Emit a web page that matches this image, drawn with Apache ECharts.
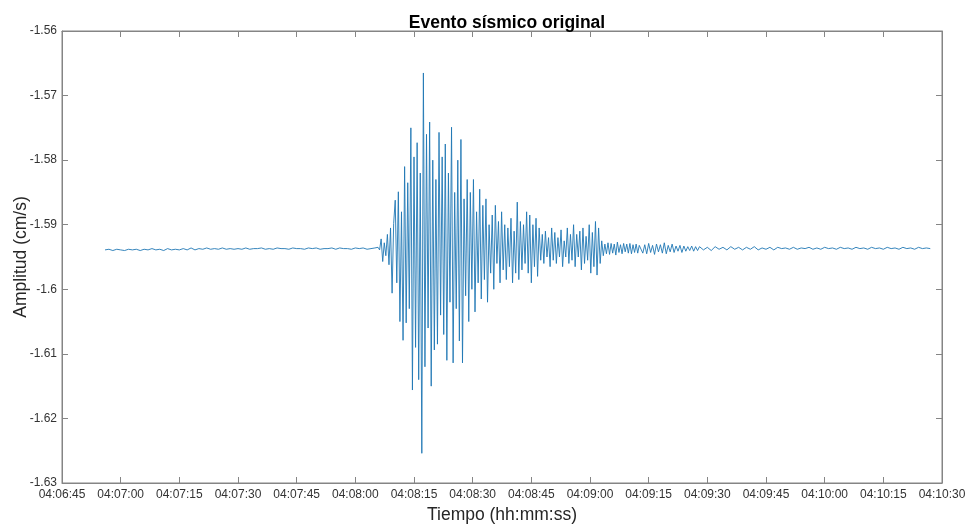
<!DOCTYPE html>
<html>
<head>
    <meta charset="UTF-8">
    <title>Evento sísmico original</title>
    <script src="https://cdn.jsdelivr.net/npm/echarts@6/dist/echarts.min.js"></script>
    <style>
        html, body { margin: 0; padding: 0; background: #fff; }
        #chart { width: 968px; height: 525px; }
    </style>
</head>
<body>
    <div id="chart"></div>
    <script>
        // segundos desde 00:00:00
        var xMin = 14805;   // 04:06:45
        var xMax = 15030;   // 04:10:30
        var xStep = 15;
        var yTicks = [-1.63, -1.62, -1.61, -1.60, -1.59, -1.58, -1.57, -1.56];

        // antes del evento: 04:06:56 .. 04:08:04, cada 1 s
        var preStart = 14816;
        var preDt = 1;
        var preValues = [
            -1.5939, -1.5938, -1.5940, -1.5938, -1.5939, -1.5940, -1.5938, -1.5939, -1.5938, -1.5940,
            -1.5938, -1.5939, -1.5937, -1.5939, -1.5938, -1.5940, -1.5937, -1.5939, -1.5938, -1.5939,
            -1.5937, -1.5939, -1.5936, -1.5939, -1.5937, -1.5938, -1.5936, -1.5938, -1.5937, -1.5938,
            -1.5936, -1.5938, -1.5937, -1.5938, -1.5937, -1.5938, -1.5936, -1.5938, -1.5937, -1.5937,
            -1.5936, -1.5938, -1.5937, -1.5938, -1.5936, -1.5937, -1.5937, -1.5938, -1.5936, -1.5937,
            -1.5937, -1.5938, -1.5936, -1.5937, -1.5936, -1.5938, -1.5937, -1.5937, -1.5936, -1.5938,
            -1.5936, -1.5937, -1.5937, -1.5938, -1.5936, -1.5937, -1.5936, -1.5938, -1.5937
        ];

        // evento: 04:08:05 .. 04:09:12.6, cada 0.4 s
        var evStart = 14885;
        var evDt = 0.4;
        var evValues = [
            -1.5936, -1.5938, -1.5935, -1.5939,
            -1.5922, -1.5957, -1.5928, -1.5948,
            -1.5915, -1.5962, -1.5905, -1.6006, -1.5898,
            -1.5862, -1.5990, -1.5849, -1.6050, -1.5880, -1.6079,
            -1.5810, -1.6052, -1.5835, -1.6030, -1.5750, -1.6156,
            -1.5795, -1.6090, -1.5773, -1.6140, -1.5820, -1.6254,
            -1.5665, -1.6120, -1.5760, -1.6060, -1.5741, -1.6150,
            -1.5800, -1.6094, -1.5830, -1.6085, -1.5757, -1.6040,
            -1.5795, -1.6070, -1.5775, -1.6110, -1.5820, -1.6020,
            -1.5749, -1.6114, -1.5850, -1.6030, -1.5800, -1.6080,
            -1.5768, -1.6114, -1.5860, -1.6010, -1.5830, -1.6050,
            -1.5850, -1.6000, -1.5830, -1.6035, -1.5880, -1.5990,
            -1.5845, -1.6015, -1.5870, -1.5985, -1.5860, -1.6020,
            -1.5900, -1.5975, -1.5885, -1.6000, -1.5870, -1.5960,
            -1.5895, -1.5990, -1.5880, -1.5970, -1.5900, -1.5985,
            -1.5905, -1.5965, -1.5890, -1.5990, -1.5910, -1.5975,
            -1.5865, -1.5985, -1.5895, -1.5970, -1.5900, -1.5960,
            -1.5880, -1.5975, -1.5885, -1.5990, -1.5900, -1.5965,
            -1.5890, -1.5980, -1.5905, -1.5955, -1.5915, -1.5960,
            -1.5910, -1.5950, -1.5920, -1.5965, -1.5905, -1.5955,
            -1.5912, -1.5960, -1.5920, -1.5950, -1.5908, -1.5965,
            -1.5925, -1.5950, -1.5905, -1.5960, -1.5915, -1.5955,
            -1.5900, -1.5965, -1.5915, -1.5950, -1.5910, -1.5970,
            -1.5905, -1.5960, -1.5918, -1.5955, -1.5900, -1.5975,
            -1.5912, -1.5965, -1.5895, -1.5978, -1.5905, -1.5960,
            -1.5925, -1.5948, -1.5930, -1.5945, -1.5928, -1.5946,
            -1.5929, -1.5944, -1.5930, -1.5947, -1.5927, -1.5943,
            -1.5931, -1.5945, -1.5929, -1.5942, -1.5930, -1.5944,
            -1.5929, -1.5945, -1.5931, -1.5943, -1.5930, -1.5944, -1.5932
        ];

        // coda temprana: 04:09:13 .. 04:09:27.5, cada 0.5 s
        var codaStart = 14953;
        var codaDt = 0.5;
        var codaValues = [
            -1.5930, -1.5944, -1.5931, -1.5945, -1.5929, -1.5943, -1.5932, -1.5946, -1.5930, -1.5942,
            -1.5931, -1.5944, -1.5928, -1.5945, -1.5932, -1.5942, -1.5930, -1.5943, -1.5933, -1.5941,
            -1.5932, -1.5943, -1.5933, -1.5941, -1.5934, -1.5940, -1.5933, -1.5941, -1.5934, -1.5940
        ];

        // coda tardía: 04:09:28 .. 04:10:27, cada 1 s
        var tailStart = 14968;
        var tailDt = 1;
        var tailValues = [
            -1.5934, -1.5939, -1.5935, -1.5940, -1.5934, -1.5938, -1.5935, -1.5939, -1.5934, -1.5938,
            -1.5935, -1.5939, -1.5935, -1.5938, -1.5934, -1.5939, -1.5936, -1.5938, -1.5935, -1.5939,
            -1.5935, -1.5937, -1.5936, -1.5938, -1.5935, -1.5938, -1.5936, -1.5937, -1.5935, -1.5938,
            -1.5936, -1.5938, -1.5935, -1.5937, -1.5936, -1.5938, -1.5935, -1.5937, -1.5936, -1.5938,
            -1.5935, -1.5937, -1.5936, -1.5938, -1.5935, -1.5937, -1.5936, -1.5938, -1.5935, -1.5937,
            -1.5936, -1.5938, -1.5935, -1.5937, -1.5936, -1.5938, -1.5935, -1.5937, -1.5936, -1.5937
        ];

        function toPairs(start, dt, values) {
            return values.map(function (v, i) {
                return [+(start + i * dt).toFixed(2), v];
            });
        }

        var data = []
            .concat(toPairs(preStart, preDt, preValues))
            .concat(toPairs(evStart, evDt, evValues))
            .concat(toPairs(codaStart, codaDt, codaValues))
            .concat(toPairs(tailStart, tailDt, tailValues));

        function pad(n) { return (n < 10 ? '0' : '') + n; }
        function hms(s) {
            s = Math.round(s);
            return pad(Math.floor(s / 3600)) + ':' + pad(Math.floor(s / 60) % 60) + ':' + pad(s % 60);
        }

        var axisColor = '#858585';
        var font = 'Liberation Sans, Arial, Helvetica, sans-serif';
        var yMin = yTicks[0], yMax = yTicks[yTicks.length - 1];

        var chart = echarts.init(document.getElementById('chart'), null, { renderer: 'canvas' });
        chart.setOption({
            animation: false,
            backgroundColor: '#fff',
            title: {
                text: 'Evento sísmico original',
                left: 502,
                textAlign: 'center',
                top: 9,
                textStyle: { fontFamily: font, fontSize: 17.5, fontWeight: 'bold', color: '#000' }
            },
            grid: {
                left: 62, right: 26, top: 31, bottom: 42,
                outerBoundsMode: 'none', containLabel: false,
                show: true, borderColor: axisColor, borderWidth: 1
            },
            xAxis: [{
                type: 'value',
                min: xMin, max: xMax, interval: xStep,
                name: 'Tiempo (hh:mm:ss)',
                nameLocation: 'middle',
                nameGap: 23,
                nameTextStyle: { fontFamily: font, fontSize: 17.5, color: '#262626' },
                axisLine: { lineStyle: { color: axisColor } },
                axisTick: { inside: true, length: 6, lineStyle: { color: axisColor } },
                axisLabel: { fontFamily: font, fontSize: 12, color: '#333', margin: 6, formatter: hms },
                splitLine: { show: false }
            }, {
                type: 'value', position: 'top',
                min: xMin, max: xMax, interval: xStep,
                axisLine: { lineStyle: { color: axisColor } },
                axisTick: { inside: true, length: 6, lineStyle: { color: axisColor } },
                axisLabel: { show: false },
                splitLine: { show: false }
            }],
            yAxis: [{
                type: 'value',
                min: yMin, max: yMax, interval: 0.01,
                name: 'Amplitud (cm/s)',
                nameLocation: 'middle',
                nameGap: 32,
                nameMoveOverlap: false,
                nameTextStyle: { fontFamily: font, fontSize: 17.5, color: '#262626' },
                axisLine: { show: true, lineStyle: { color: axisColor } },
                axisTick: { show: true, inside: true, length: 6, lineStyle: { color: axisColor } },
                axisLabel: {
                    fontFamily: font, fontSize: 12, color: '#333', margin: 5,
                    formatter: function (v) { return String(Number(v.toFixed(2))); }
                },
                splitLine: { show: false }
            }, {
                type: 'value', position: 'right',
                min: yMin, max: yMax, interval: 0.01,
                axisLine: { show: true, lineStyle: { color: axisColor } },
                axisTick: { show: true, inside: true, length: 6, lineStyle: { color: axisColor } },
                axisLabel: { show: false },
                splitLine: { show: false }
            }],
            series: [{
                type: 'line',
                data: data,
                xAxisIndex: 0,
                yAxisIndex: 0,
                showSymbol: false,
                symbol: 'none',
                lineStyle: { color: '#1f77b4', width: 0.9 }
            }]
        });
    </script>
</body>
</html>
